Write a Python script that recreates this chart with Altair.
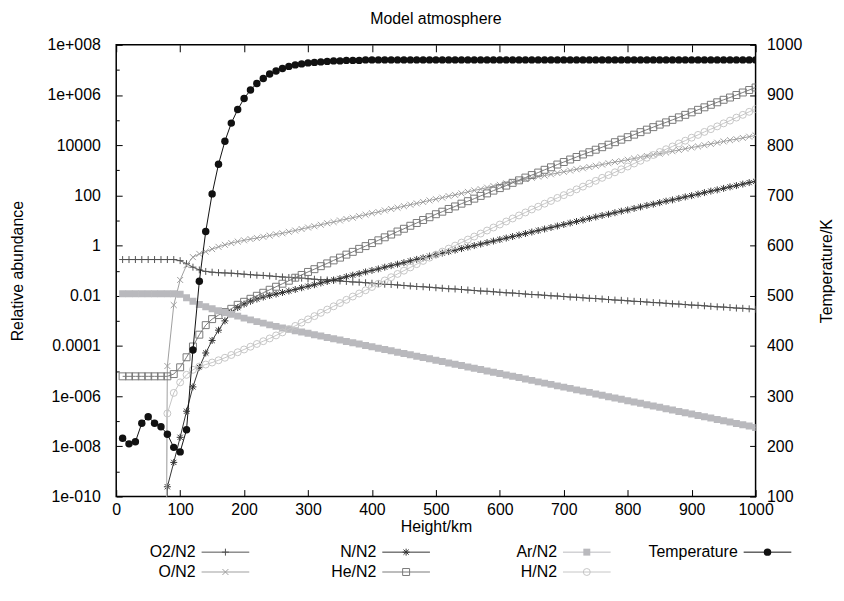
import altair as alt
import pandas as pd

# ---------------- data ----------------
heights = list(range(10, 1010, 10))  # km, one sample every 10 km

# log10 of relative abundance (None = not plotted,
# -40 = value far below the bottom of the axis)
o2_log10 = [
    -0.556, -0.556, -0.556, -0.556, -0.556, -0.556, -0.556, -0.556, -0.556, -0.60,
    -0.72, -0.86, -0.97, -1.03, -1.06, -1.08, -1.09, -1.10, -1.12, -1.14,
    -1.16, -1.18, -1.19, -1.21, -1.23, -1.25, -1.27, -1.28, -1.30, -1.32,
    -1.34, -1.36, -1.37, -1.39, -1.41, -1.43, -1.45, -1.46, -1.48, -1.50,
    -1.52, -1.54, -1.55, -1.57, -1.59, -1.61, -1.63, -1.64, -1.66, -1.68,
    -1.70, -1.72, -1.73, -1.75, -1.77, -1.79, -1.81, -1.82, -1.84, -1.86,
    -1.88, -1.89, -1.91, -1.93, -1.95, -1.96, -1.98, -2.00, -2.01, -2.03,
    -2.05, -2.06, -2.08, -2.10, -2.11, -2.13, -2.15, -2.17, -2.18, -2.20,
    -2.22, -2.23, -2.25, -2.27, -2.28, -2.30, -2.32, -2.33, -2.35, -2.37,
    -2.38, -2.40, -2.42, -2.44, -2.45, -2.47, -2.49, -2.50, -2.52, -2.54,
]
o_log10 = [
    None, None, None, None, None, None, -40, -4.80, -2.37, -1.37,
    -0.78, -0.46, -0.33, -0.24, -0.14, -0.05, 0.03, 0.10, 0.16, 0.21,
    0.26, 0.30, 0.35, 0.40, 0.45, 0.49, 0.55, 0.60, 0.66, 0.72,
    0.77, 0.83, 0.89, 0.94, 1.00, 1.06, 1.11, 1.17, 1.23, 1.29,
    1.34, 1.40, 1.46, 1.51, 1.57, 1.63, 1.68, 1.74, 1.80, 1.85,
    1.91, 1.97, 2.02, 2.08, 2.14, 2.20, 2.25, 2.31, 2.37, 2.42,
    2.48, 2.54, 2.59, 2.65, 2.70, 2.75, 2.79, 2.84, 2.89, 2.94,
    2.99, 3.04, 3.08, 3.13, 3.18, 3.23, 3.28, 3.33, 3.37, 3.42,
    3.47, 3.52, 3.57, 3.62, 3.66, 3.71, 3.76, 3.81, 3.86, 3.91,
    3.95, 4.00, 4.05, 4.10, 4.15, 4.20, 4.24, 4.29, 4.34, 4.39,
]
n_log10 = [
    None, None, None, None, None, None, -40, -9.61, -8.64, -7.64,
    -6.60, -5.63, -4.85, -4.28, -3.78, -3.37, -3.00, -2.66, -2.47, -2.33,
    -2.22, -2.13, -2.05, -1.99, -1.93, -1.87, -1.81, -1.75, -1.68, -1.62,
    -1.56, -1.49, -1.43, -1.37, -1.31, -1.24, -1.18, -1.12, -1.05, -0.99,
    -0.93, -0.86, -0.80, -0.74, -0.68, -0.61, -0.55, -0.49, -0.42, -0.36,
    -0.30, -0.24, -0.18, -0.12, -0.06, 0.00, 0.06, 0.12, 0.18, 0.24,
    0.30, 0.36, 0.42, 0.48, 0.54, 0.60, 0.66, 0.72, 0.78, 0.84,
    0.90, 0.96, 1.02, 1.08, 1.14, 1.20, 1.25, 1.31, 1.37, 1.42,
    1.48, 1.54, 1.60, 1.65, 1.71, 1.77, 1.82, 1.88, 1.94, 1.99,
    2.05, 2.11, 2.17, 2.22, 2.28, 2.34, 2.39, 2.45, 2.51, 2.56,
]
he_log10 = [
    -5.21, -5.21, -5.21, -5.21, -5.21, -5.21, -5.21, -5.21, -5.12, -4.85,
    -4.45, -4.02, -3.55, -3.17, -2.93, -2.77, -2.65, -2.52, -2.36, -2.24,
    -2.12, -2.00, -1.88, -1.76, -1.64, -1.52, -1.40, -1.28, -1.17, -1.05,
    -0.94, -0.82, -0.71, -0.59, -0.48, -0.36, -0.25, -0.13, -0.02, 0.10,
    0.21, 0.33, 0.44, 0.56, 0.67, 0.79, 0.90, 1.02, 1.13, 1.25,
    1.35, 1.46, 1.56, 1.67, 1.77, 1.87, 1.98, 2.08, 2.19, 2.29,
    2.39, 2.50, 2.60, 2.71, 2.81, 2.91, 3.02, 3.12, 3.23, 3.33,
    3.43, 3.53, 3.63, 3.72, 3.82, 3.92, 4.02, 4.12, 4.22, 4.32,
    4.42, 4.52, 4.62, 4.72, 4.82, 4.91, 5.01, 5.11, 5.21, 5.31,
    5.41, 5.51, 5.61, 5.71, 5.81, 5.90, 6.00, 6.10, 6.20, 6.30,
]
ar_log10 = [
    -1.92, -1.92, -1.92, -1.92, -1.92, -1.92, -1.92, -1.92, -1.92, -1.94,
    -2.08, -2.22, -2.35, -2.44, -2.52, -2.60, -2.67, -2.74, -2.81, -2.89,
    -2.96, -3.03, -3.09, -3.16, -3.22, -3.28, -3.33, -3.39, -3.44, -3.49,
    -3.55, -3.60, -3.66, -3.71, -3.76, -3.82, -3.87, -3.92, -3.98, -4.03,
    -4.09, -4.14, -4.19, -4.25, -4.30, -4.35, -4.41, -4.46, -4.51, -4.57,
    -4.62, -4.68, -4.73, -4.78, -4.84, -4.89, -4.94, -5.00, -5.05, -5.10,
    -5.16, -5.21, -5.26, -5.32, -5.37, -5.43, -5.48, -5.53, -5.59, -5.64,
    -5.69, -5.75, -5.80, -5.85, -5.91, -5.96, -6.02, -6.07, -6.12, -6.18,
    -6.23, -6.28, -6.34, -6.39, -6.44, -6.50, -6.55, -6.61, -6.66, -6.71,
    -6.77, -6.82, -6.87, -6.93, -6.98, -7.03, -7.09, -7.14, -7.19, -7.25,
]
h_log10 = [
    None, None, None, None, None, None, -40, -6.69, -5.87, -5.45,
    -5.15, -4.95, -4.82, -4.74, -4.66, -4.57, -4.47, -4.36, -4.25, -4.14,
    -4.03, -3.92, -3.81, -3.70, -3.58, -3.46, -3.33, -3.20, -3.07, -2.94,
    -2.81, -2.68, -2.55, -2.42, -2.29, -2.16, -2.03, -1.91, -1.78, -1.65,
    -1.52, -1.39, -1.26, -1.13, -1.00, -0.87, -0.74, -0.61, -0.48, -0.36,
    -0.24, -0.12, 0.00, 0.12, 0.24, 0.36, 0.48, 0.60, 0.72, 0.84,
    0.96, 1.08, 1.20, 1.32, 1.44, 1.55, 1.67, 1.78, 1.90, 2.01,
    2.12, 2.24, 2.35, 2.47, 2.58, 2.70, 2.81, 2.92, 3.04, 3.15,
    3.27, 3.38, 3.50, 3.61, 3.73, 3.84, 3.95, 4.07, 4.18, 4.30,
    4.41, 4.53, 4.64, 4.75, 4.87, 4.98, 5.10, 5.21, 5.33, 5.44,
]
temperature_K = [
    216, 205, 209, 246, 259, 246, 239, 224, 198, 189,
    233, 392, 529, 628, 703, 762, 808, 844, 871, 893,
    910, 923, 933, 942, 948, 953, 957, 960, 962, 964,
    965, 966, 967, 968, 968, 969, 969, 969, 970, 970,
    970, 970, 970, 970, 970, 970, 970, 970, 970, 970,
    970, 970, 970, 970, 970, 970, 970, 970, 970, 970,
    970, 970, 970, 970, 970, 970, 970, 970, 970, 970,
    970, 970, 970, 970, 970, 970, 970, 970, 970, 970,
    970, 970, 970, 970, 970, 970, 970, 970, 970, 970,
    970, 970, 970, 970, 970, 970, 970, 970, 970, 970,
]

series_names = ["O2/N2", "O/N2", "N/N2", "He/N2", "Ar/N2", "H/N2"]
series_logs = [o2_log10, o_log10, n_log10, he_log10, ar_log10, h_log10]

x_ticks = [0, 100, 200, 300, 400, 500, 600, 700, 800, 900, 1000]
t_ticks = [100, 200, 300, 400, 500, 600, 700, 800, 900, 1000]
y_label_exponents = [8, 6, 4, 2, 0, -2, -4, -6, -8, -10]
y_label_texts = ["1e+008", "1e+006", "10000", "100", "1", "0.01", "0.0001",
                 "1e-006", "1e-008", "1e-010"]
y_minor_exponents = [7, 5, 3, 1, -1, -3, -5, -7, -9]

legend_names = ["O2/N2", "O/N2", "N/N2", "He/N2", "Ar/N2", "H/N2", "Temperature"]
legend_cols = [0, 0, 1, 1, 2, 2, 3]
legend_rows = [0, 1, 0, 1, 0, 1, 0]

# ---------------- styles ----------------
FONT = "Liberation Sans"
FS = 16
PLUS = "M-1,0L1,0M0,-1L0,1"
CROSS = "M-1,-1L1,1M-1,1L1,-1"
STAR = "M-1,0L1,0M0,-1L0,1M-0.75,-0.75L0.75,0.75M-0.75,0.75L0.75,-0.75"
style = {
    "O2/N2": dict(color="#525252", shape=PLUS, filled=False, size=49),
    "O/N2": dict(color="#9e9e9e", shape=CROSS, filled=False, size=36),
    "N/N2": dict(color="#333333", shape=STAR, filled=False, size=49),
    "He/N2": dict(color="#7a7a7a", shape="square", filled=False, size=49),
    "Ar/N2": dict(color="#b9b9bd", shape="square", filled=True, size=49),
    "H/N2": dict(color="#c6c6c6", shape="circle", filled=False, size=49),
    "Temperature": dict(color="#111111", shape="circle", filled=True, size=56),
}

# ---------------- tables ----------------
rows = []
for name, logs in zip(series_names, series_logs):
    for h, lv in zip(heights, logs):
        if lv is not None:
            rows.append({"height": h, "series": name, "value": 10.0 ** lv})
abund = pd.DataFrame(rows)
temp = pd.DataFrame({"height": heights, "T": temperature_K})
legend_df = pd.DataFrame({"name": legend_names, "col": legend_cols, "row": legend_rows})
minor_df = pd.DataFrame({"v": [10.0 ** e for e in y_minor_exponents]})

# ---------------- scales & axes ----------------
x_scale = alt.Scale(domain=[0, 1000], nice=False, zero=False)
y_scale = alt.Scale(type="log", domain=[1e-10, 1e8], nice=False)
t_scale = alt.Scale(domain=[100, 1000], nice=False, zero=False)

lg = "round(log(datum.value)/LN10)"
label_expr = "".join(f"{lg} == {e} ? '{t}' : " for e, t in zip(y_label_exponents, y_label_texts)) + "''"

x_axis_bottom = alt.Axis(title="Height/km", values=x_ticks, format="d", offset=-7, tickSize=7,
                         domain=False, grid=False, labelPadding=5, titlePadding=1,
                         labelFlush=False, labelOverlap=False)
x_axis_top = alt.Axis(orient="top", title="", values=x_ticks, labels=False, offset=-7,
                      tickSize=7, domain=False, grid=False)
y_axis_left = alt.Axis(title="Relative abundance", values=[10.0 ** e for e in y_label_exponents],
                       labelExpr=label_expr, offset=-6, tickSize=6, domain=False, grid=False,
                       labelPadding=16, titlePadding=22, labelFlush=False, labelOverlap=False)
y_axis_minor = alt.Axis(orient="left", title="", values=[10.0 ** e for e in y_minor_exponents],
                        labels=False, offset=-3, tickSize=3, domain=False, grid=False)
t_axis_right = alt.Axis(orient="right", title="Temperature/K", titleAngle=270, values=t_ticks,
                        format="d", offset=-6, tickSize=6, domain=False, grid=False,
                        labelPadding=11, titlePadding=33, labelFlush=False, labelOverlap=False)

# ---------------- main plot ----------------
abund_layers = []
for name in series_names:
    s = style[name]
    d = abund[abund["series"] == name]
    base = alt.Chart(d).encode(
        x=alt.X("height:Q", scale=x_scale, axis=x_axis_bottom),
        y=alt.Y("value:Q", scale=y_scale, axis=y_axis_left),
    )
    abund_layers.append(base.mark_line(color=s["color"], strokeWidth=1, clip=True))
    abund_layers.append(base.mark_point(shape=s["shape"], filled=s["filled"], color=s["color"],
                                        size=s["size"], strokeWidth=1, opacity=1, clip=True))

ts = style["Temperature"]
tbase = alt.Chart(temp).encode(
    x=alt.X("height:Q", scale=x_scale, axis=x_axis_top),
    y=alt.Y("T:Q", scale=t_scale, axis=t_axis_right),
)
temp_group = alt.layer(
    tbase.mark_line(color=ts["color"], strokeWidth=1, clip=True),
    tbase.mark_point(shape="circle", filled=True, color=ts["color"], size=ts["size"], opacity=1, clip=True),
)

# minor decade ticks of the left axis (invisible carrier mark, axis only)
minor_group = alt.Chart(minor_df).mark_point(opacity=0).encode(
    x=alt.value(0),
    y=alt.Y("v:Q", scale=y_scale, axis=y_axis_minor),
)

main = alt.layer(alt.layer(*abund_layers), temp_group, minor_group).resolve_scale(
    y="independent"
).resolve_axis(x="independent", y="independent").properties(
    width=644, height=455,
    title=alt.Title("Model atmosphere", frame="group", anchor="middle", offset=10),
)

# ---------------- legend (gnuplot style: label, then sample) ----------------
lx = alt.X("col:Q", scale=alt.Scale(domain=[0, 644 / 182], nice=False, zero=False), axis=None)
ly = alt.Y("row:Q", scale=alt.Scale(domain=[-0.5, 1.5], reverse=True, nice=False, zero=False), axis=None)
leg_layers = [
    alt.Chart(legend_df).mark_text(align="right", baseline="middle", xOffset=80, font=FONT,
                                   fontSize=FS, color="black").encode(x=lx, y=ly, text="name:N")
]
for name in legend_names:
    s = style[name]
    d = legend_df[legend_df["name"] == name]
    leg_layers.append(alt.Chart(d).mark_rule(xOffset=86, x2Offset=134, color=s["color"],
                                             strokeWidth=1).encode(x=lx, x2="col:Q", y=ly))
    leg_layers.append(alt.Chart(d).mark_point(xOffset=110, shape=s["shape"], filled=s["filled"],
                                              color=s["color"], size=s["size"], strokeWidth=1,
                                              opacity=1).encode(x=lx, y=ly))
legend = alt.layer(*leg_layers).properties(width=644, height=40,
                                            view=alt.ViewBackground(strokeOpacity=0))

chart = alt.vconcat(main, legend, spacing=7).properties(
    padding={"left": 0, "top": 0, "right": 0, "bottom": 0}
).configure_view(stroke="black", strokeWidth=1.5).configure_axis(
    labelFont=FONT, titleFont=FONT, labelFontSize=FS, titleFontSize=FS, titleFontWeight="normal",
    labelColor="black", titleColor="black", tickColor="black", tickWidth=1,
).configure_title(font=FONT, fontSize=FS, fontWeight="normal", color="black")

chart.save("out.html", embed_options={"renderer": "svg", "actions": False})
